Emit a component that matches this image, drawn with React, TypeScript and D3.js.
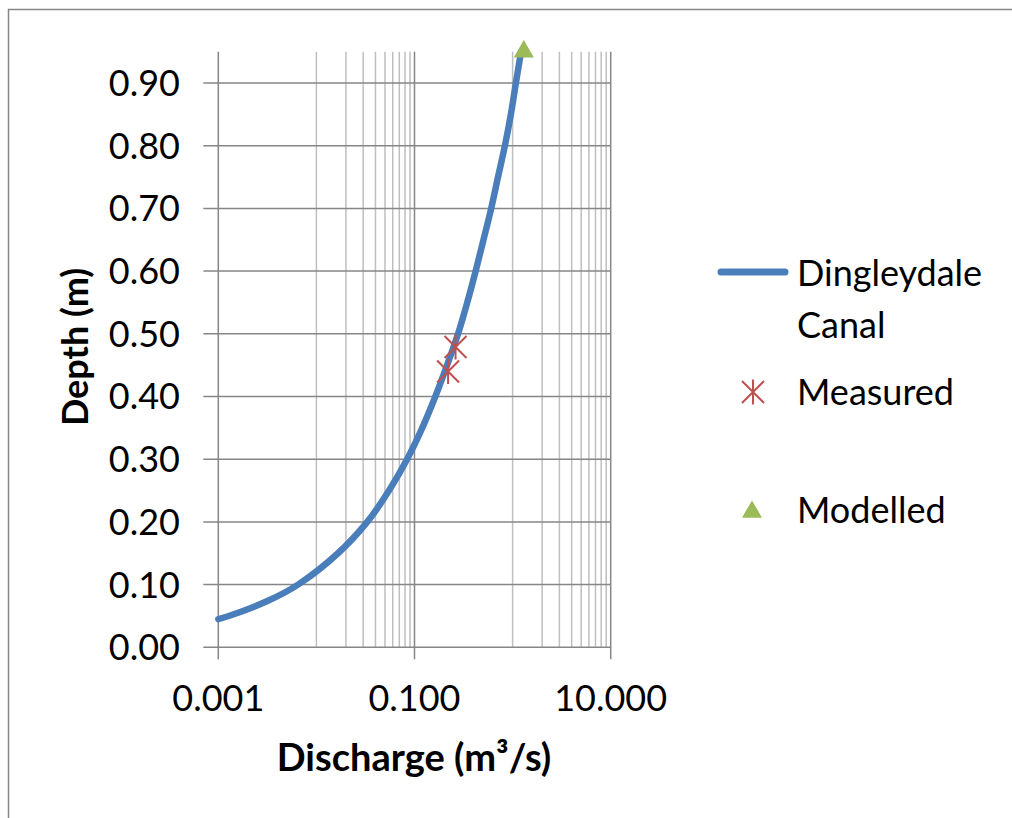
import React from "react";
import * as d3 from "d3";

const curveDepth = [0.045, 0.05, 0.075, 0.1, 0.15, 0.2, 0.25, 0.3, 0.35, 0.4, 0.45, 0.5, 0.55, 0.6, 0.65, 0.7, 0.75, 0.8, 0.85, 0.9, 0.95];
const curveQ = [0.001, 0.00128, 0.00329, 0.0065, 0.0166, 0.033, 0.055, 0.084, 0.12, 0.163, 0.215, 0.278, 0.345, 0.42, 0.505, 0.605, 0.71, 0.835, 0.96, 1.08, 1.22];

const measuredQ = [0.22, 0.262];
const measuredDepth = [0.44, 0.479];

const modelledQ = [1.3];
const modelledDepth = [0.95];

const yTicks = [0, 0.1, 0.2, 0.3, 0.4, 0.5, 0.6, 0.7, 0.8, 0.9];
const xMajorTicks = [0.001, 0.1, 10];
const xMinorGrid = [0.01, 0.02, 0.03, 0.04, 0.05, 0.06, 0.07, 0.08, 0.09, 1, 2, 3, 4, 5, 6, 7, 8, 9];

const seriesNames = ["Dingleydale", "Canal", "Measured", "Modelled"];

const W = 1012;
const H = 818;
const left = 218.3;
const right = 610.7;
const bottom = 647.3;
const yMax = 0.95;
const top = bottom - (yMax / 0.1) * 62.7;

const FONT = "Lato, 'Open Sans', sans-serif";
const FS = 36;
const BLUE = "#4A7EBB";
const RED = "#C0504D";
const GREEN = "#9BBB59";
const MAJOR = "#868686";
const MINOR = "#BFBFBF";

export default function App() {
  const x = d3.scaleLog().domain([0.001, 10]).range([left, right]);
  const y = d3.scaleLinear().domain([0, yMax]).range([bottom, top]);

  const pts: [number, number][] = curveQ.map((q, i) => [q, curveDepth[i]]);
  const line = d3
    .line<[number, number]>()
    .x((d) => x(d[0]))
    .y((d) => y(d[1]))
    .curve(d3.curveCatmullRom.alpha(0.5));

  const fmtY = d3.format(".2f");
  const fmtX = d3.format(".3f");

  const star = "M-11,-11L11,11M-11,11L11,-11M0,-12.5L0,12.5";
  const tri = d3.symbol().type(d3.symbolTriangle).size(175)() as string;

  return (
    <svg
      width={W}
      height={H}
      style={{ position: "absolute", left: 0, top: 0, background: "#fff" }}
      fontFamily={FONT}
    >
      <rect x={8.5} y={9.5} width={W + 10} height={H + 10} fill="#fff" stroke={MAJOR} strokeWidth={1.5} />

      {xMinorGrid.map((v) => (
        <line key={"mn" + v} x1={x(v)} x2={x(v)} y1={top} y2={bottom} stroke={MINOR} strokeWidth={1.5} />
      ))}
      {yTicks.map((v) => (
        <line key={"hy" + v} x1={left - 15} x2={right} y1={y(v)} y2={y(v)} stroke={MAJOR} strokeWidth={1.5} />
      ))}
      {xMajorTicks.map((v) => (
        <line key={"mj" + v} x1={x(v)} x2={x(v)} y1={top} y2={bottom + 12} stroke={MAJOR} strokeWidth={1.5} />
      ))}

      {yTicks.map((v) => (
        <text key={"ty" + v} x={180} y={y(v)} dy="0.36em" textAnchor="end" fontSize={FS} fill="#000">
          {fmtY(v)}
        </text>
      ))}
      {xMajorTicks.map((v) => (
        <text key={"tx" + v} x={x(v)} y={711} textAnchor="middle" fontSize={FS} fill="#000">
          {fmtX(v)}
        </text>
      ))}

      <text x={414} y={771} textAnchor="middle" fontSize={38} fontWeight="bold" fill="#000">
        Discharge (m³/s)
      </text>
      <text
        transform={`translate(88,347) rotate(-90)`}
        textAnchor="middle"
        fontSize={FS}
        fontWeight="bold"
        fill="#000"
      >
        Depth (m)
      </text>

      <path d={line(pts) as string} fill="none" stroke={BLUE} strokeWidth={6.5} strokeLinecap="round" />

      {measuredQ.map((q, i) => (
        <path
          key={"m" + i}
          d={star}
          transform={`translate(${x(q)},${y(measuredDepth[i])})`}
          fill="none"
          stroke={RED}
          strokeWidth={2}
        />
      ))}

      {modelledQ.map((q, i) => (
        <path key={"t" + i} d={tri} transform={`translate(${x(q)},${y(modelledDepth[i])})`} fill={GREEN} />
      ))}

      <line x1={721} x2={785} y1={272} y2={272} stroke={BLUE} strokeWidth={7} strokeLinecap="round" />
      <text x={797} y={286} fontSize={FS} fill="#000">{seriesNames[0]}</text>
      <text x={797} y={338} fontSize={FS} fill="#000">{seriesNames[1]}</text>
      <path d={star} transform="translate(753,392)" fill="none" stroke={RED} strokeWidth={2} />
      <text x={797} y={405} fontSize={FS} fill="#000">{seriesNames[2]}</text>
      <path d={tri} transform="translate(752,512)" fill={GREEN} />
      <text x={797} y={523} fontSize={FS} fill="#000">{seriesNames[3]}</text>
    </svg>
  );
}
